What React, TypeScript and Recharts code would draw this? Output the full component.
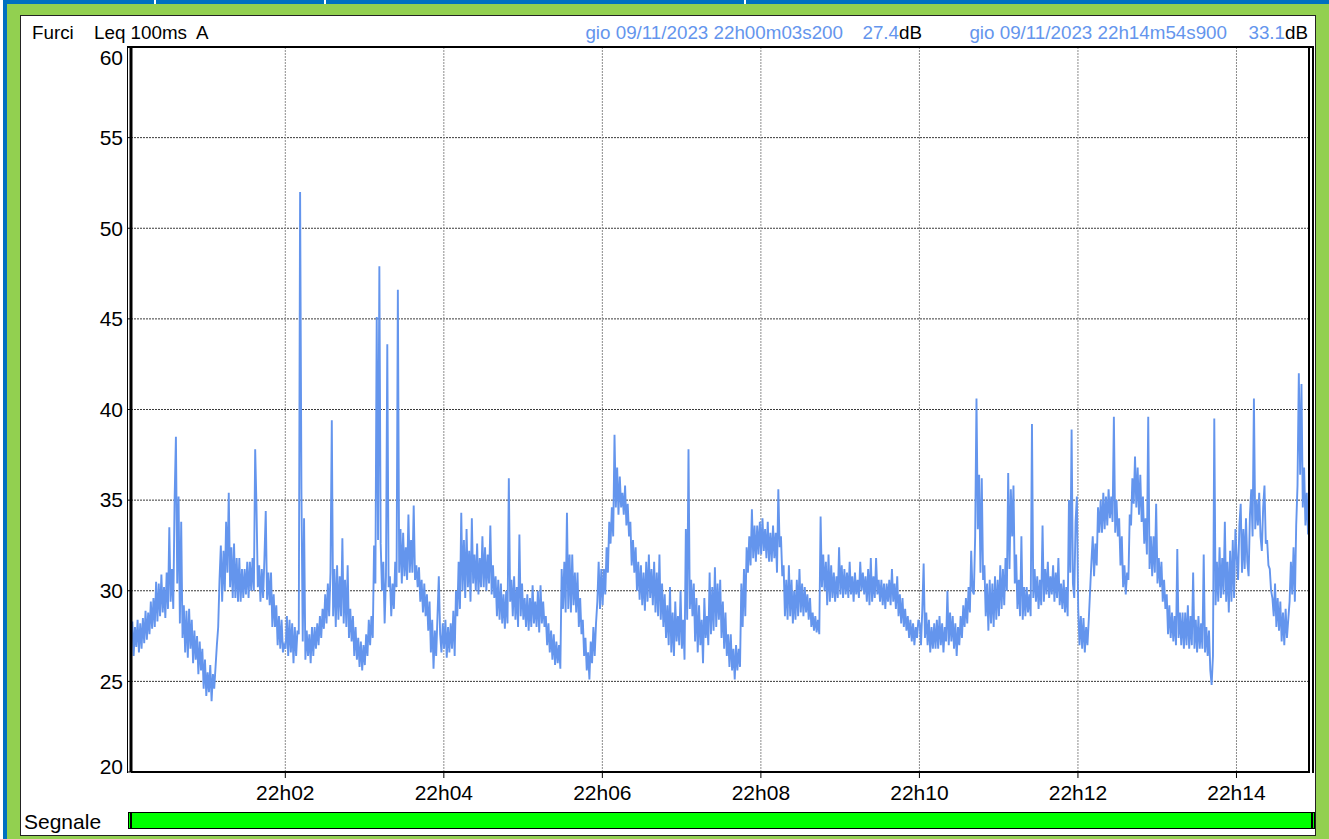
import { LineChart, Line, XAxis, YAxis, CartesianGrid } from 'recharts';

// Leq 100ms A, Furci, 09/11/2023 22h00m03s200 -> 22h14m54s900
// values read every second (seconds counted from 22h00m00s)
const startSec = 3.2;
const endSec = 894.9;
const stepSec = 1;

const lvl2200 = [
  27.4, 28.3, 26.4, 28.0, 26.9, 28.4, 26.6, 28.2, 26.8, 28.5,
  27.1, 28.9, 27.3, 28.8, 27.6, 29.4, 27.9, 29.6, 28.0, 30.5,
  28.3, 30.4, 28.6, 30.9, 28.8, 30.2, 28.5, 31.0, 29.0, 33.5,
  29.4, 31.2, 29.0, 35.0, 38.5, 30.4, 35.2, 28.2, 33.8, 27.4,
  29.2, 26.6, 28.9, 26.3, 29.0, 26.8, 28.4, 26.0, 27.8, 26.2,
  27.5, 25.4, 27.2, 25.6, 26.8, 24.6, 26.2, 24.2, 25.5, 24.4,
  25.9, 23.9, 25.4,
  24.6, 25.8, 27.0, 28.0, 30.6, 32.5, 29.4, 32.2, 30.0, 33.8,
  31.0, 35.4, 30.2, 32.4, 29.6, 32.6, 29.6, 31.8, 29.4, 31.8,
  29.4, 31.2, 29.6, 31.2, 29.8, 31.6, 29.6, 31.6, 30.0, 31.8,
  30.0, 37.8, 34.6, 30.2, 31.4, 29.4, 31.2, 29.6, 31.8, 34.4,
  29.5, 31.0, 29.2, 31.0, 28.0, 29.8, 28.0, 29.2, 27.0, 28.6,
  26.8, 28.4, 26.6, 27.0,
];
const lvl2202 = [
  26.8, 28.6, 26.4, 28.4, 26.6, 28.2, 26.0, 28.0, 26.4, 27.8,
  27.6, 52.0, 35.6, 27.2, 34.0, 26.2, 27.8, 26.4, 27.6, 26.0,
  28.0, 26.4, 28.0, 26.8, 28.2, 27.0, 28.6, 27.4, 29.0, 27.9,
  29.8, 28.2, 30.4, 28.6, 31.0, 39.4, 28.6, 31.2, 28.0, 31.4,
  28.4, 30.8, 28.6, 32.9, 28.2, 30.6, 28.0, 31.4, 27.4, 29.0,
  27.2, 28.6, 26.4, 28.0, 26.2, 27.4, 25.8, 27.2, 25.6, 27.0,
  25.9, 27.6, 26.4, 28.4, 27.0, 28.6, 27.4, 32.5, 30.4, 45.1,
  32.8, 47.9, 32.6, 30.0, 31.6, 28.2, 30.8, 43.6, 30.2, 30.8,
  28.6, 30.4, 29.0, 31.6, 30.2, 46.6, 31.0, 33.4, 30.4, 33.2,
  30.8, 32.4, 30.6, 34.2, 31.0, 32.8, 31.0, 34.7, 30.6, 31.4,
  30.2, 31.3, 29.4, 30.6, 28.8, 30.4, 28.6, 29.8, 27.8, 29.4,
  26.6, 28.4, 25.7, 27.8, 26.4, 28.6, 30.8, 27.6, 26.6, 28.2,
];
const lvl2204 = [
  26.8, 28.4, 26.3, 28.0, 26.6, 28.2, 26.8, 28.9, 26.4, 30.0,
  28.6, 31.6, 29.0, 34.3, 30.0, 32.8, 29.6, 33.4, 30.2, 32.2,
  29.4, 34.0, 30.4, 32.0, 30.0, 32.6, 29.8, 31.8, 30.2, 33.0,
  30.2, 32.4, 30.0, 32.0, 30.4, 33.6, 29.8, 31.4, 29.6, 30.8,
  28.6, 30.6, 28.4, 30.4, 28.2, 29.8, 27.9, 30.0, 28.2, 36.2,
  29.4, 30.6, 28.6, 30.8, 28.4, 30.2, 28.0, 33.1, 28.6, 30.4,
  28.4, 29.6, 28.0, 29.8, 27.8, 29.6, 28.0, 30.3, 28.2, 29.4,
  28.0, 30.0, 27.7, 30.3, 28.2, 29.4, 28.0, 28.6, 27.0, 28.2,
  26.6, 27.8, 26.2, 27.6, 25.9, 27.2, 26.0, 27.0, 25.7, 31.2,
  29.0, 31.6, 28.8, 34.3, 29.0, 32.0, 28.8, 32.0, 29.2, 31.0,
  28.8, 31.0, 28.0, 29.6, 27.6, 28.4, 26.4, 27.4, 25.6, 26.6,
  25.1, 27.2, 26.0, 28.0, 26.4, 28.2, 29.4, 31.6, 29.0, 31.2,
];
const lvl2206 = [
  29.2, 31.2, 29.8, 32.4, 31.0, 33.8, 32.6, 34.6, 33.0, 38.6,
  34.6, 36.8, 34.2, 36.3, 34.6, 35.4, 34.2, 35.8, 33.6, 34.8,
  33.0, 33.8, 31.4, 32.8, 31.0, 32.4, 30.0, 31.6, 29.5, 31.4,
  29.2, 31.0, 28.9, 31.6, 29.4, 32.0, 29.6, 31.2, 29.2, 31.6,
  28.8, 31.0, 28.6, 32.0, 28.4, 30.4, 28.0, 29.8, 27.4, 29.2,
  27.0, 30.2, 26.6, 28.8, 26.4, 29.4, 27.2, 28.6, 27.0, 30.0,
  26.8, 28.4, 26.2, 33.4, 28.4, 37.8, 29.0, 30.6, 28.6, 30.4,
  27.2, 29.6, 26.6, 29.2, 27.0, 28.4, 26.0, 29.6, 27.4, 28.6,
  27.0, 31.0, 27.6, 30.2, 27.8, 31.3, 28.0, 30.4, 28.4, 30.6,
  27.4, 29.4, 26.8, 28.8, 26.4, 27.6, 25.8, 27.6, 25.6, 26.8,
  25.1, 27.0, 25.6, 26.8, 25.8, 30.4, 28.0, 31.2, 28.6, 32.4,
  31.0, 33.0, 31.4, 34.5, 31.8, 33.6, 31.6, 33.6, 32.0, 33.8,
];
const lvl2208 = [
  32.0, 34.0, 32.2, 33.4, 31.8, 33.8, 31.6, 33.2, 31.6, 33.6,
  31.8, 33.2, 31.0, 35.6, 32.4, 33.0, 30.8, 31.4, 28.6, 30.6,
  28.4, 31.4, 28.6, 30.6, 28.2, 30.0, 28.4, 30.6, 28.6, 31.2,
  28.8, 30.4, 28.6, 30.2, 28.8, 29.8, 28.4, 29.6, 28.0, 28.8,
  27.8, 28.6, 27.7, 28.4, 27.6, 34.1, 30.2, 32.0, 30.0, 31.6,
  29.2, 32.0, 29.4, 31.4, 29.6, 31.0, 29.4, 30.8, 29.6, 32.4,
  29.8, 31.4, 29.6, 31.2, 29.8, 31.0, 29.6, 31.6, 29.8, 30.8,
  29.4, 31.0, 29.8, 30.6, 29.6, 31.6, 30.0, 31.0, 29.8, 30.8,
  29.4, 31.2, 29.2, 31.8, 29.4, 30.8, 29.6, 31.8, 29.8, 30.6,
  29.4, 30.6, 29.2, 30.4, 29.0, 30.4, 29.4, 30.6, 29.2, 31.2,
  29.4, 30.4, 29.0, 30.8, 28.6, 29.8, 28.2, 29.6, 28.0, 29.0,
  27.8, 28.6, 27.4, 28.4, 27.2, 28.2, 27.0, 28.0, 27.4, 28.4,
];
const lvl2210 = [
  28.2, 27.0, 29.0, 31.5, 27.4, 28.8, 27.0, 28.4, 26.6, 28.0,
  26.8, 28.2, 26.8, 28.4, 26.8, 28.6, 27.0, 28.2, 26.6, 28.0,
  27.2, 30.0, 27.0, 28.8, 27.2, 28.6, 26.8, 28.2, 26.4, 28.0,
  27.0, 28.6, 27.4, 29.2, 28.0, 29.6, 28.2, 30.2, 28.8, 32.2,
  30.0, 29.8, 33.0, 40.6, 33.4, 36.4, 31.0, 36.2, 30.6, 31.4,
  28.6, 30.4, 27.8, 30.6, 28.2, 30.4, 28.0, 30.8, 28.4, 30.6,
  28.6, 31.4, 29.0, 31.2, 29.2, 31.8, 30.0, 36.5, 31.2, 35.6,
  33.0, 35.8, 30.4, 32.0, 29.0, 30.6, 28.6, 33.0, 28.4, 30.2,
  28.6, 30.2, 28.8, 29.8, 28.6, 39.2, 29.6, 31.2, 29.4, 30.8,
  29.0, 30.6, 29.2, 33.6, 29.4, 31.2, 29.8, 31.6, 29.6, 30.8,
  29.8, 31.4, 29.4, 31.0, 29.6, 31.8, 29.2, 30.4, 29.0, 30.6,
  28.8, 30.2, 28.6, 35.0, 31.0, 38.9, 30.4, 29.6, 33.8, 35.2,
];
const lvl2212 = [
  29.0, 27.0, 28.6, 26.8, 28.5, 26.6, 28.0, 27.0, 28.4, 30.0,
  31.6, 33.0, 30.8, 32.6, 31.4, 34.6, 33.2, 35.0, 33.2, 35.4,
  33.4, 35.2, 33.6, 35.6, 34.0, 35.2, 33.8, 39.6, 33.2, 35.0,
  33.0, 34.0, 31.4, 33.0, 30.2, 31.4, 29.8, 31.0, 30.6, 34.2,
  33.6, 36.2, 34.8, 37.4, 34.6, 36.8, 34.2, 36.4, 33.8, 35.2,
  32.6, 34.0, 32.0, 39.6, 31.2, 33.0, 30.8, 33.0, 31.0, 34.8,
  30.4, 31.8, 30.2, 31.6, 29.4, 30.6, 29.0, 29.8, 27.6, 29.2,
  27.4, 28.8, 27.2, 28.6, 27.0, 32.3, 27.4, 28.8, 27.0, 28.8,
  26.8, 28.8, 27.0, 29.2, 26.8, 28.6, 27.0, 31.0, 26.8, 28.4,
  26.6, 28.6, 26.8, 28.2, 26.8, 32.0, 26.6, 28.0, 26.4, 27.8,
  25.6, 24.8, 26.4, 39.5, 29.2, 31.6, 29.4, 32.4, 29.6, 31.8,
  29.8, 33.8, 29.4, 31.6, 28.8, 32.2, 29.4, 32.8, 29.6, 33.4,
];
const lvl2214 = [
  31.8, 30.6, 33.6, 34.8, 31.0, 33.4, 31.2, 34.0, 31.6, 30.8,
  34.2, 35.6, 33.0, 40.6, 33.4, 35.0, 33.6, 35.4, 33.0, 32.2,
  34.6, 35.8, 32.6, 32.8, 31.4, 31.2, 30.0, 29.6, 28.6, 30.4,
  28.0, 29.6, 27.8, 29.4, 27.2, 28.8, 27.0, 29.0, 27.4, 28.4,
  29.4, 31.6, 29.8, 32.4, 29.4, 33.6, 35.8, 42.0, 36.4, 41.4,
  34.6, 36.8, 33.6, 35.4, 33.1,
];

const timeTicks = [120, 240, 360, 480, 600, 720, 840];
const timeLabels = ['22h02', '22h04', '22h06', '22h08', '22h10', '22h12', '22h14'];
const dbTicks = [20, 25, 30, 35, 40, 45, 50, 55, 60];

const levels = [...lvl2200, ...lvl2202, ...lvl2204, ...lvl2206, ...lvl2208, ...lvl2210, ...lvl2212, ...lvl2214];
const chartData = levels.map((v, i) => ({ t: startSec + i * stepSec, leq: v }));

const font = '"Liberation Sans", Arial, sans-serif';
const lineBlue = '#6495ED';
const headerSize = 18.8;

function DbTick({ x, y, payload }: any) {
  // end labels are pushed inside the frame like the meter software does
  const shift = payload.value === 60 ? 11 : payload.value === 20 ? -5 : 0;
  return (
    <text x={x - 2} y={y + shift} dy="0.35em" textAnchor="end" fontSize={21} fill="#000" fontFamily={font}>
      {payload.value}
    </text>
  );
}

function TimeTick({ x, y, payload }: any) {
  const idx = timeTicks.indexOf(payload.value);
  return (
    <text x={x} y={y + 13} dy="0.35em" textAnchor="middle" fontSize={21} fill="#000" fontFamily={font}>
      {timeLabels[idx]}
    </text>
  );
}

const abs = (left: number, top: number, width: number, height: number, background: string): React.CSSProperties => ({
  position: 'absolute', left, top, width, height, background,
});

const headText: React.CSSProperties = {
  position: 'absolute', top: 23, fontSize: headerSize, lineHeight: '20px', whiteSpace: 'nowrap', color: '#000',
};

export default function App() {
  return (
    <div style={{ position: 'absolute', left: 0, top: 0, width: 1329, height: 839, background: '#92D050', overflow: 'hidden', fontFamily: font }}>
      {/* window chrome */}
      <div style={abs(0, 0, 1329, 4, '#0070C0')} />
      <div style={abs(154, 0, 2, 4, '#fff')} />
      <div style={abs(324, 0, 2, 4, '#fff')} />
      <div style={abs(744, 0, 2, 4, '#fff')} />
      <div style={abs(0, 0, 3, 839, '#fff')} />
      <div style={abs(3, 0, 4, 839, '#0070C0')} />
      <div style={{ ...abs(20, 15, 1296, 821, '#fff'), border: '1px solid #222', boxSizing: 'border-box' }} />

      {/* header */}
      <div style={{ ...headText, left: 32 }}>Furci</div>
      <div style={{ ...headText, left: 94 }}>Leq 100ms</div>
      <div style={{ ...headText, left: 196 }}>A</div>
      <div style={{ ...headText, right: 486, color: lineBlue }}>gio 09/11/2023 22h00m03s200</div>
      <div style={{ ...headText, right: 407 }}>
        <span style={{ color: lineBlue }}>27.4</span>dB
      </div>
      <div style={{ ...headText, right: 102, color: lineBlue }}>gio 09/11/2023 22h14m54s900</div>
      <div style={{ ...headText, right: 21 }}>
        <span style={{ color: lineBlue }}>33.1</span>dB
      </div>

      <div style={{ position: 'absolute', left: 0, top: 0 }}>
        <LineChart width={1329} height={839} data={chartData} margin={{ top: 47, right: 20, bottom: 37, left: 71 }}>
          <CartesianGrid vertical={false} stroke="#3a3a3a" strokeDasharray="2 1" />
          <CartesianGrid horizontal={false} stroke="#8c8c8c" strokeDasharray="2 1" />
          <XAxis
            type="number"
            dataKey="t"
            domain={[startSec, endSec]}
            ticks={timeTicks}
            allowDataOverflow
            height={30}
            tickSize={6}
            axisLine={{ stroke: '#000', strokeWidth: 2 }}
            tickLine={{ stroke: '#000' }}
            tick={<TimeTick />}
          />
          <YAxis
            type="number"
            domain={[20, 60]}
            ticks={dbTicks}
            allowDataOverflow
            width={60}
            tickSize={4}
            axisLine={{ stroke: '#000', strokeWidth: 3 }}
            tickLine={{ stroke: '#000' }}
            tick={<DbTick />}
          />
          <Line
            type="linear"
            dataKey="leq"
            stroke={lineBlue}
            strokeWidth={1.9}
            strokeLinejoin="miter"
            dot={false}
            isAnimationActive={false}
          />
        </LineChart>
      </div>

      {/* plot frame */}
      <div style={abs(128, 46, 1185, 2, '#000')} />
      <div style={abs(127, 46, 1, 727, '#000')} />
      <div style={abs(1308, 46, 2, 727, '#000')} />
      <div style={abs(1312, 46, 2, 727, '#000')} />

      {/* signal strip */}
      <div style={{ position: 'absolute', left: 24, top: 810, fontSize: 21, lineHeight: '24px', color: '#000' }}>Segnale</div>
      <div style={{ ...abs(128, 812, 1187, 17, '#00FF00'), border: '1px solid #000', boxSizing: 'border-box' }} />
      <div style={abs(130, 813, 2, 15, '#000')} />
      <div style={abs(1311, 813, 2, 15, '#000')} />
    </div>
  );
}
